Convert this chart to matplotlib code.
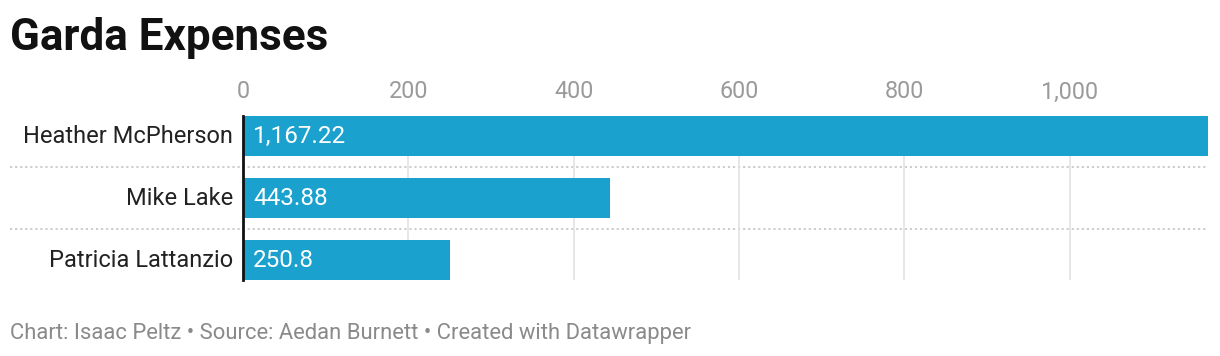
import matplotlib.pyplot as plt
from matplotlib.ticker import FuncFormatter

names = ["Heather McPherson", "Mike Lake", "Patricia Lattanzio"]
expenses = [1167.22, 443.88, 250.8]
value_labels = ["1,167.22", "443.88", "250.8"]
ticks = [0, 200, 400, 600, 800, 1000]

plt.rcParams["font.family"] = ["Roboto", "DejaVu Sans"]

W, H = 1220, 356
fig = plt.figure(figsize=(W / 100, H / 100), dpi=100)
# axes box in pixels: x 243..1208, y 116..280
ax = fig.add_axes([243 / W, 1 - 280 / H, (1208 - 243) / W, (280 - 116) / H])

ypos = list(range(len(names)))
ax.barh(ypos, expenses, height=40 / 62, color="#1aa1cd", zorder=2)
ax.set_xlim(0, max(expenses))
ax.set_ylim(len(names) - 1 + 20 / 62, -20 / 62)

ax.set_xticks(ticks)
ax.xaxis.set_major_formatter(FuncFormatter(lambda v, p: f"{v:,.0f}"))
ax.xaxis.tick_top()
ax.tick_params(axis="x", length=0, pad=9, labelsize=16.8, labelcolor="#9a9a9a")
ax.set_yticks([])
ax.grid(axis="x", color="#e3e3e3", linewidth=1.2, zorder=0)
for s in ["top", "right", "bottom"]:
    ax.spines[s].set_visible(False)
ax.spines["left"].set_color("#111111")
ax.spines["left"].set_linewidth(2)
ax.spines["left"].set_zorder(3)

# row labels and value labels
for y, name, val, lab in zip(ypos, names, expenses, value_labels):
    ax.text(-10 / 965 * max(expenses), y, name, ha="right", va="center",
            fontsize=17, color="#222222")
    ax.text(10 / 965 * max(expenses), y, lab, ha="left", va="center",
            fontsize=17.5, color="white", zorder=4)

# dotted separators between rows, spanning label area too
for y in [0.5, 1.5]:
    ax.axhline(y, xmin=(10 - 243) / 965, xmax=1, color="#c8c8c8",
               linestyle=(0, (1.2, 1.6)), linewidth=1.3, clip_on=False, zorder=1)

fig.text(10 / W, 1 - 38 / H, "Garda Expenses", fontsize=31.7, fontweight="bold",
         va="center", ha="left", color="#111111")
fig.text(10 / W, 1 - 334 / H,
         "Chart: Isaac Peltz \u2022 Source: Aedan Burnett \u2022 Created with Datawrapper",
         fontsize=15.8, color="#8a8a8a", va="center", ha="left")

fig.savefig("out.png", dpi=100)
